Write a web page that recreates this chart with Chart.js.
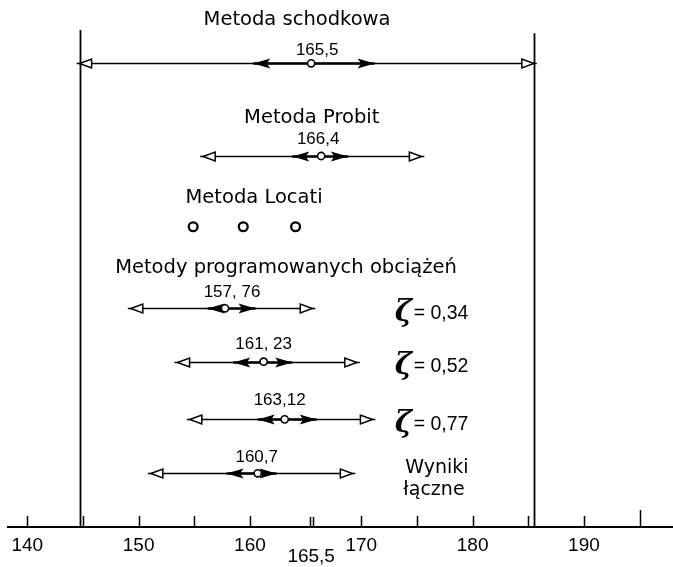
<!DOCTYPE html>
<html><head><meta charset="utf-8">
<script src="https://cdn.jsdelivr.net/npm/chart.js@4.4.1/dist/chart.umd.min.js"></script>
<style>html,body{margin:0;padding:0;background:#fff;}canvas{display:block}</style>
</head><body>
<canvas id="c" width="673" height="567"></canvas>
<script>
// ---------------- DATA ----------------
const rowNames   = ['Metoda schodkowa', 'Metoda Probit', 'ζ = 0,34', 'ζ = 0,52', 'ζ = 0,77', 'Wyniki łączne'];
const meanValues = [165.5, 166.4, 157.76, 161.23, 163.12, 160.7];
const meanLabels = ['165,5', '166,4', '157, 76', '161, 23', '163,12', '160,7'];
const outerLow   = [144.7, 155.8, 149.3, 153.5, 154.6, 151.1];
const outerHigh  = [185.5, 175.4, 165.6, 169.6, 171.0, 169.2];
const innerLow   = [160.3, 163.8, 156.2, 158.5, 160.7, 157.9];
const innerHigh  = [171.2, 168.8, 160.5, 163.8, 166.0, 162.4];
const locatiValues = [154.9, 159.4, 164.1];
const zetaSymbol = 'ζ';
const zetaLabels = ['= 0,34', '= 0,52', '= 0,77'];
const tickValues = [140, 150, 160, 170, 180, 190];
const minorTickValues = [145, 155, 175, 185, 195];
const sectionTitles = ['Metoda schodkowa', 'Metoda Probit', 'Metoda Locati', 'Metody programowanych obciążeń'];
const combinedLabel = ['Wyniki', 'łączne'];

// ---------------- LAYOUT (not data) ----------------
const X_MIN = 138.27, X_MAX = 198.0;
const rowY = [1.201, 2.960, 5.850, 6.863, 7.957, 8.981];   // y-scale units (0..10, top->bottom)
const locatiY = 4.302;
const titlePos = [[164.23, 0.380], [165.55, 2.239], [160.37, 3.757], [163.24, 5.085]];
const labelDx = [6, -3, 7, 0, -5, -1];
const labelDy = [13, 17, 16, 17, 19, 16];
const zetaX = 173.0;
const combinedX = 176.8;
const vlineTop = [0.57, 0.63];

const TITLE_FONT = '19.5px "DejaVu Sans"';
const NUM_FONT = '17px "Liberation Sans"';
const TICK_FONT_SIZE = 19;

function openHead(ctx, x, y, dir) {
  const L = 12, W = 4.5;
  ctx.beginPath(); ctx.moveTo(x + dir * 3, y); ctx.lineTo(x, y); ctx.stroke();
  ctx.beginPath();
  ctx.moveTo(x, y);
  ctx.lineTo(x - dir * L, y - W);
  ctx.lineTo(x - dir * L, y + W);
  ctx.closePath();
  ctx.fillStyle = '#fff'; ctx.fill(); ctx.stroke();
}
function filledHead(ctx, x, y, dir) {
  const L = 17, W = 5, notch = 3.5;
  ctx.beginPath();
  ctx.moveTo(x, y);
  ctx.lineTo(x - dir * L, y - W);
  ctx.lineTo(x - dir * (L - notch), y);
  ctx.lineTo(x - dir * L, y + W);
  ctx.closePath();
  ctx.fillStyle = '#000'; ctx.fill();
}

const drawPlugin = {
  id: 'drawPlugin',
  beforeDatasetsDraw(chart) {
    const {ctx, scales: {x, y}, chartArea} = chart;
    ctx.save();
    ctx.strokeStyle = '#000';
    ctx.lineCap = 'butt';
    // vertical boundary lines at the outer range of the first method
    ctx.lineWidth = 1.8;
    [outerLow[0], outerHigh[0]].forEach((v, k) => {
      const px = Math.round(x.getPixelForValue(v)) + 0.5;
      ctx.beginPath();
      ctx.moveTo(px, y.getPixelForValue(vlineTop[k]));
      ctx.lineTo(px, chartArea.bottom);
      ctx.stroke();
    });
    // upward tick marks
    ctx.lineWidth = 1.5;
    tickValues.concat(minorTickValues).forEach(v => {
      const px = Math.round(x.getPixelForValue(v)) + 0.5;
      const len = v === 195 ? 17 : 11;
      ctx.beginPath(); ctx.moveTo(px, chartArea.bottom); ctx.lineTo(px, chartArea.bottom - len); ctx.stroke();
    });
    // double tick at the staircase mean
    const pm = x.getPixelForValue(meanValues[0]);
    [-1.5, 1.5].forEach(d => {
      ctx.beginPath(); ctx.moveTo(Math.round(pm + d) + 0.5, chartArea.bottom); ctx.lineTo(Math.round(pm + d) + 0.5, chartArea.bottom - 10); ctx.stroke();
    });
    // arrows
    meanValues.forEach((m, i) => {
      const yy = Math.round(y.getPixelForValue(rowY[i])) + 0.5;
      const xl = x.getPixelForValue(outerLow[i]), xh = x.getPixelForValue(outerHigh[i]);
      const il = x.getPixelForValue(innerLow[i]), ih = x.getPixelForValue(innerHigh[i]);
      ctx.lineWidth = 1.6;
      ctx.beginPath(); ctx.moveTo(xl, yy); ctx.lineTo(xh, yy); ctx.stroke();
      ctx.lineWidth = 2.6;
      ctx.beginPath(); ctx.moveTo(il, yy); ctx.lineTo(ih, yy); ctx.stroke();
      filledHead(ctx, il, yy, -1);
      filledHead(ctx, ih, yy, 1);
      ctx.lineWidth = 1.5;
      openHead(ctx, xl, yy, -1);
      openHead(ctx, xh, yy, 1);
    });
    ctx.restore();
  },
  afterDatasetsDraw(chart) {
    const {ctx, scales: {x, y}, chartArea} = chart;
    ctx.save();
    ctx.fillStyle = '#000';
    ctx.textBaseline = 'middle';
    // section titles
    ctx.font = TITLE_FONT;
    ctx.textAlign = 'center';
    sectionTitles.forEach((t, k) => {
      ctx.fillText(t, x.getPixelForValue(titlePos[k][0]), y.getPixelForValue(titlePos[k][1]));
    });
    // value labels
    ctx.font = NUM_FONT;
    meanValues.forEach((m, i) => {
      ctx.fillText(meanLabels[i], x.getPixelForValue(m) + labelDx[i], y.getPixelForValue(rowY[i]) - labelDy[i]);
    });
    // zeta labels
    ctx.textAlign = 'left';
    zetaLabels.forEach((lab, k) => {
      const row = 2 + k;
      const yy = y.getPixelForValue(rowY[row]) + 5;
      const x0 = x.getPixelForValue(zetaX);
      ctx.font = 'italic bold 29px "DejaVu Serif"';
      ctx.fillText(zetaSymbol, x0, yy);
      ctx.font = '19.5px "Liberation Sans"';
      ctx.fillText(lab, x0 + 19, yy);
    });
    // combined results label
    ctx.textAlign = 'center';
    ctx.font = '19px "DejaVu Sans"';
    const cy = y.getPixelForValue(rowY[5]);
    ctx.fillText(combinedLabel[0], x.getPixelForValue(combinedX), cy - 5);
    ctx.fillText(combinedLabel[1], x.getPixelForValue(combinedX) - 3, cy + 17);
    // extra axis label for staircase mean
    ctx.font = TICK_FONT_SIZE + 'px "Liberation Sans"';
    ctx.fillText(meanLabels[0], x.getPixelForValue(meanValues[0]), chartArea.bottom + 30);
    ctx.restore();
  }
};

new Chart(document.getElementById('c'), {
  type: 'scatter',
  data: {
    datasets: [
      {
        label: 'Wartość średnia',
        data: meanValues.map((v, i) => ({x: v, y: rowY[i]})),
        pointRadius: 3.6, pointBorderWidth: 1.6,
        pointBackgroundColor: '#fff', pointBorderColor: '#000'
      },
      {
        label: 'Metoda Locati',
        data: locatiValues.map(v => ({x: v, y: locatiY})),
        pointRadius: 4.4, pointBorderWidth: 2.3,
        pointBackgroundColor: '#fff', pointBorderColor: '#000'
      }
    ]
  },
  options: {
    responsive: false,
    animation: false,
    layout: {autoPadding: false, padding: {left: 8, right: 0, top: 0, bottom: 0}},
    plugins: {legend: {display: false}, tooltip: {enabled: false}},
    scales: {
      x: {
        type: 'linear', min: X_MIN, max: X_MAX,
        afterBuildTicks: s => { s.ticks = tickValues.map(v => ({value: v})); },
        afterFit: s => { s.height = 40; },
        grid: {display: false, drawTicks: false},
        border: {display: true, color: '#000', width: 2},
        ticks: {
          color: '#000', padding: 7, maxRotation: 0, autoSkip: false,
          font: {family: '"Liberation Sans"', size: TICK_FONT_SIZE},
          callback: v => String(v)
        }
      },
      y: {type: 'linear', min: 0, max: 10, reverse: true, display: false}
    }
  },
  plugins: [drawPlugin]
});
</script>
</body></html>
